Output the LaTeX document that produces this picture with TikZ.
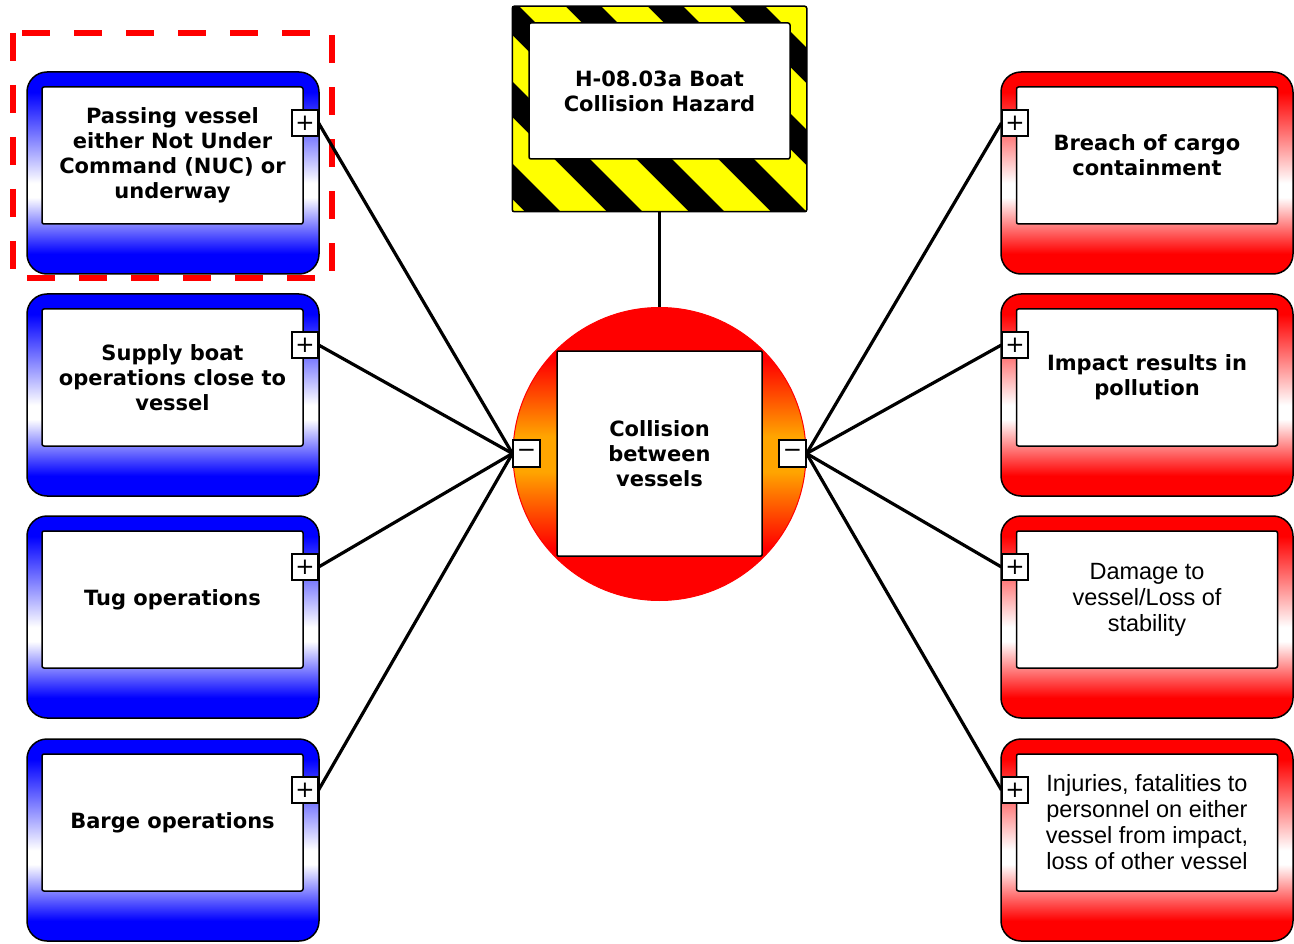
\documentclass[tikz,border=0pt]{standalone}
\usepackage{fontspec}
\setmainfont{DejaVu Sans}
\newfontfamily\arialfont{Liberation Sans}
\definecolor{hzyellow}{RGB}{255,255,0}
\definecolor{bworange}{RGB}{255,165,0}
\pgfdeclareverticalshading{blueshade}{100bp}{color(0bp)=(blue); color(30bp)=(blue); color(44bp)=(white); color(47.5bp)=(white); color(70bp)=(blue); color(100bp)=(blue)}
\pgfdeclareverticalshading{redshade}{100bp}{color(0bp)=(red); color(30bp)=(red); color(44bp)=(white); color(47.5bp)=(white); color(70bp)=(red); color(100bp)=(red)}
\pgfdeclareverticalshading{circshade}{100bp}{color(0bp)=(red); color(34bp)=(red); color(47bp)=(bworange); color(53bp)=(bworange); color(66bp)=(red); color(100bp)=(red)}
\tikzset{
  outerbox/.style={rectangle, rounded corners=20pt, draw=black, line width=1.5pt, minimum width=292pt, minimum height=202pt, inner sep=0pt},
  bluebox/.style={outerbox, shade, shading=blueshade},
  redbox/.style={outerbox, shade, shading=redshade},
  innerbox/.style={rectangle, rounded corners=2pt, draw=black, line width=1.5pt, fill=white, minimum width=261pt, minimum height=137pt, inner sep=0pt, align=center, font=\bfseries\fontsize{21}{25}\selectfont},
  plainbox/.style={innerbox, font=\arialfont\fontsize{23.5}{26}\selectfont},
  pmbox/.style={rectangle, draw=black, line width=1.2pt, fill=white, minimum size=26pt, inner sep=0pt, font=\fontsize{23}{23}\selectfont},
  link/.style={line width=3.2pt, black},
}
\begin{document}
\begin{tikzpicture}[x=1pt,y=-1pt]
\useasboundingbox (0,0) rectangle (1294,944);
% dashed highlight
\draw[red, line width=6pt, dash pattern=on 28pt off 24pt] (12.5,33) rectangle (331.5,278.5);
% outer boxes
\foreach \i/\dy in {1/0,2/222,3/444,4/667}{
  \node[bluebox] (L\i) at (173,173+\dy) {};
  \node[redbox] (R\i) at (1147,173+\dy) {};
}
\node[innerbox] (LT1) at (172.5,155.5) {Passing vessel\\either Not Under\\Command (NUC) or\\underway};
\node[innerbox] (LT2) at (172.5,377.5) {Supply boat\\operations close to\\vessel};
\node[innerbox] (LT3) at (172.5,599.5) {Tug operations};
\node[innerbox] (LT4) at (172.5,822.5) {Barge operations};
\node[innerbox] (RT1) at (1147,155.5) {Breach of cargo\\containment};
\node[innerbox] (RT2) at (1147,377.5) {Impact results in\\pollution};
\node[plainbox] (RT3) at (1147,599.5) {Damage to\\vessel/Loss of\\stability};
\node[plainbox] (RT4) at (1147,822.5) {Injuries, fatalities to\\personnel on either\\vessel from impact,\\loss of other vessel};
\foreach \i/\dy in {1/0,2/222,3/444,4/667}{
  \node[pmbox] (LP\i) at (305,123+\dy) {+};
  \node[pmbox] (RP\i) at (1015,123+\dy) {+};
}
% hazard
\node[rectangle, draw=black, line width=1.5pt, fill=black, minimum width=293pt, minimum height=204pt, inner sep=0pt] (haz) at (659.5,109) {};
\begin{scope}
  \clip (haz.north west) rectangle (haz.south east);
  \foreach \k in {-4,...,4}{
    \fill[hzyellow] (513+82*\k,0) -- (559+82*\k,0) -- (559+82*\k+230,230) -- (513+82*\k+230,230) -- cycle;
  }
\end{scope}
\draw[black, line width=1.5pt, rounded corners=2pt] (haz.north west) rectangle (haz.south east);
\node[innerbox, minimum height=136pt] (hazt) at (659.5,91) {H-08.03a Boat\\Collision Hazard};
% central event
\node[circle, draw=red, line width=1pt, shade, shading=circshade, minimum size=293pt, inner sep=0pt] (ev) at (659.5,454) {};
\node[innerbox, minimum width=205pt, minimum height=205pt, rounded corners=1pt] (evt) at (659.5,453.5) {Collision\\between\\vessels};
\node[pmbox, minimum size=27pt] (ML) at (526.5,453.5) {−};
\node[pmbox, minimum size=27pt] (MR) at (792.5,453.5) {−};
% connectors
\draw[link] (haz.south) -- (ev.north);
\foreach \i in {1,...,4}{
  \draw[link] (LP\i.east) -- (ML.west);
  \draw[link] (MR.east) -- (RP\i.west);
}
\end{tikzpicture}
\end{document}
